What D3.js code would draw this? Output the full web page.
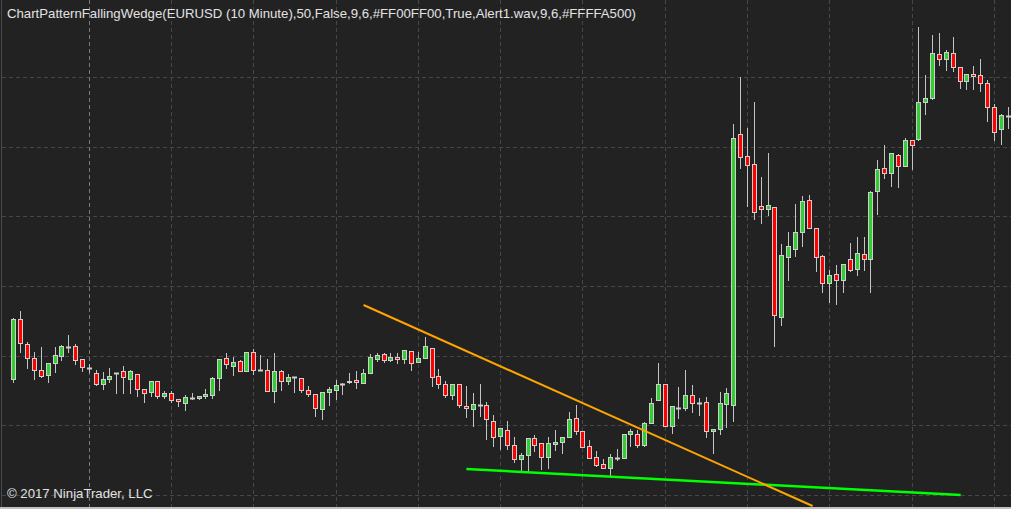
<!DOCTYPE html>
<html>
<head>
<meta charset="utf-8">
<script src="https://cdn.jsdelivr.net/npm/d3@7"></script>
<style>
html,body{margin:0;padding:0;background:#222222;overflow:hidden;}
svg{display:block;}
</style>
</head>
<body>
<svg id="chart" width="1011" height="509"></svg>
<script>
// ---- data (EURUSD 10 minute bars) ----
const titleText = "ChartPatternFallingWedge(EURUSD (10 Minute),50,False,9,6,#FF00FF00,True,Alert1.wav,9,6,#FFFFA500)";
const copyrightText = "\u00A9 2017 NinjaTrader, LLC";

const open = [1.06698,1.06758,1.06733,1.06719,1.06707,1.06702,1.06714,1.06721,1.06730,1.06731,
1.06718,1.06709,1.06704,1.06693,1.06698,1.06704,1.06706,1.06698,1.06703,1.06688,
1.06685,1.06696,1.06681,1.06684,1.06678,1.06674,1.06679,1.06679,1.06681,1.06682,
1.06699,1.06719,1.06711,1.06716,1.06706,1.06725,1.06707,1.06707,1.06686,1.06706,
1.06696,1.06700,1.06699,1.06687,1.06683,1.06668,1.06685,1.06687,1.06693,1.06695,
1.06697,1.06694,1.06704,1.06718,1.06723,1.06717,1.06720,1.06718,1.06726,1.06715,
1.06719,1.06729,1.06701,1.06693,1.06682,1.06693,1.06671,1.06668,1.06672,1.06672,
1.06656,1.06641,1.06647,1.06632,1.06618,1.06622,1.06639,1.06634,1.06620,1.06633,
1.06635,1.06640,1.06659,1.06646,1.06631,1.06620,1.06613,1.06609,1.06619,1.06619,
1.06643,1.06643,1.06632,1.06654,1.06677,1.06693,1.06651,1.06669,1.06669,1.06682,
1.06674,1.06675,1.06646,1.06648,1.06673,1.06672,1.06943,1.06921,1.06913,1.06871,
1.06868,1.06870,1.06760,1.06820,1.06828,1.06845,1.06877,1.06849,1.06821,1.06794,
1.06803,1.06797,1.06818,1.06808,1.06823,1.06818,1.06886,1.06909,1.06904,1.06922,
1.06911,1.06937,1.06938,1.06975,1.06979,1.07023,1.07018,1.07024,1.07010,1.06996,
1.07003,1.07002,1.06994,1.06970,1.06948,1.06961];

const high = [1.06759,1.06766,1.06735,1.06725,1.06730,1.06714,1.06730,1.06732,1.06742,1.06733,
1.06718,1.06713,1.06707,1.06705,1.06709,1.06704,1.06711,1.06707,1.06703,1.06688,
1.06696,1.06696,1.06686,1.06686,1.06678,1.06682,1.06684,1.06681,1.06688,1.06700,
1.06718,1.06724,1.06720,1.06717,1.06725,1.06728,1.06722,1.06718,1.06724,1.06707,
1.06703,1.06700,1.06699,1.06691,1.06683,1.06685,1.06690,1.06697,1.06694,1.06704,
1.06706,1.06708,1.06723,1.06724,1.06724,1.06724,1.06724,1.06727,1.06726,1.06725,
1.06740,1.06729,1.06708,1.06696,1.06693,1.06693,1.06691,1.06684,1.06693,1.06675,
1.06662,1.06649,1.06656,1.06640,1.06624,1.06639,1.06642,1.06634,1.06640,1.06647,
1.06640,1.06665,1.06672,1.06646,1.06637,1.06626,1.06618,1.06623,1.06628,1.06643,
1.06648,1.06647,1.06655,1.06679,1.06714,1.06693,1.06671,1.06690,1.06707,1.06692,
1.06679,1.06680,1.06648,1.06685,1.06689,1.06953,1.07000,1.06949,1.06975,1.06900,
1.06924,1.06870,1.06833,1.06845,1.06873,1.06881,1.06882,1.06849,1.06822,1.06807,
1.06812,1.06813,1.06834,1.06840,1.06840,1.06886,1.06917,1.06932,1.06924,1.06923,
1.06939,1.06937,1.07050,1.07002,1.07042,1.07044,1.07027,1.07040,1.07010,1.07003,
1.07011,1.07018,1.06997,1.06973,1.06963,1.06970];

const low = [1.06695,1.06725,1.06709,1.06698,1.06700,1.06695,1.06705,1.06717,1.06725,1.06713,
1.06706,1.06705,1.06692,1.06688,1.06695,1.06684,1.06684,1.06684,1.06681,1.06675,
1.06681,1.06679,1.06679,1.06675,1.06671,1.06667,1.06678,1.06678,1.06679,1.06679,
1.06687,1.06709,1.06702,1.06706,1.06706,1.06703,1.06707,1.06686,1.06675,1.06687,
1.06693,1.06685,1.06685,1.06681,1.06661,1.06658,1.06672,1.06678,1.06683,1.06694,
1.06689,1.06694,1.06704,1.06716,1.06715,1.06716,1.06714,1.06714,1.06707,1.06715,
1.06719,1.06691,1.06689,1.06680,1.06678,1.06670,1.06660,1.06651,1.06661,1.06638,
1.06631,1.06628,1.06628,1.06615,1.06605,1.06605,1.06626,1.06608,1.06609,1.06627,
1.06624,1.06640,1.06643,1.06630,1.06619,1.06611,1.06609,1.06600,1.06617,1.06619,
1.06631,1.06630,1.06631,1.06654,1.06677,1.06651,1.06644,1.06659,1.06667,1.06665,
1.06662,1.06640,1.06624,1.06643,1.06650,1.06656,1.06909,1.06871,1.06858,1.06854,
1.06862,1.06731,1.06752,1.06797,1.06821,1.06831,1.06849,1.06806,1.06785,1.06775,
1.06773,1.06785,1.06806,1.06802,1.06807,1.06785,1.06863,1.06899,1.06891,1.06890,
1.06911,1.06908,1.06937,1.06963,1.06978,1.07012,1.07007,1.07006,1.06989,1.06988,
1.06988,1.06986,1.06956,1.06937,1.06933,1.06949];

const close = [1.06758,1.06734,1.06719,1.06707,1.06701,1.06714,1.06722,1.06731,1.06730,1.06717,
1.06710,1.06709,1.06693,1.06698,1.06701,1.06704,1.06700,1.06706,1.06688,1.06684,
1.06696,1.06681,1.06684,1.06677,1.06676,1.06680,1.06679,1.06681,1.06683,1.06699,
1.06718,1.06713,1.06715,1.06706,1.06725,1.06707,1.06707,1.06686,1.06706,1.06696,
1.06700,1.06700,1.06687,1.06683,1.06669,1.06685,1.06688,1.06692,1.06693,1.06696,
1.06695,1.06704,1.06720,1.06722,1.06717,1.06720,1.06718,1.06727,1.06714,1.06719,
1.06731,1.06700,1.06693,1.06682,1.06693,1.06672,1.06669,1.06673,1.06672,1.06658,
1.06640,1.06649,1.06632,1.06618,1.06622,1.06639,1.06632,1.06620,1.06634,1.06635,
1.06640,1.06658,1.06646,1.06630,1.06619,1.06612,1.06609,1.06620,1.06619,1.06643,
1.06646,1.06632,1.06654,1.06674,1.06693,1.06651,1.06671,1.06669,1.06682,1.06674,
1.06674,1.06646,1.06648,1.06674,1.06684,1.06939,1.06920,1.06912,1.06865,1.06868,
1.06872,1.06762,1.06822,1.06831,1.06845,1.06876,1.06849,1.06820,1.06794,1.06802,
1.06797,1.06813,1.06807,1.06824,1.06818,1.06885,1.06908,1.06904,1.06924,1.06911,
1.06937,1.06932,1.06975,1.06979,1.07024,1.07018,1.07025,1.07010,1.06996,1.07003,
1.07001,1.06994,1.06970,1.06945,1.06962,1.06961];

// horizontal price grid levels
const priceGrid = [1.07000, 1.06930, 1.06861, 1.06791, 1.06721, 1.06652, 1.06582];
// vertical time grid (bar indices, every 2 hours = 12 bars)
const timeGrid = [11, 23, 35, 47, 59, 71, 83, 95, 107, 119, 131, 143];
// falling wedge lines: [bar index, price]
const upperLine = [[51, 1.06772], [116.5, 1.06571]];
const lowerLine = [[66, 1.06608], [138.1, 1.06582]];

// ---- drawing ----
const W = 1011, H = 509;
const svg = d3.select("#chart");
const x = d3.scaleLinear().domain([0, 145]).range([13.9, 1008.0]);
const y = d3.scaleLinear().domain([1.0658, 1.0700]).range([497, 77]);

svg.append("rect").attr("width", W).attr("height", H).attr("fill", "#222222");

svg.append("defs").append("clipPath").attr("id", "plot")
  .append("rect").attr("x", 2).attr("y", 0).attr("width", W - 2).attr("height", 507);

const grid = svg.append("g");
grid.selectAll("line.h").data(priceGrid).enter().append("line")
  .attr("x1", 2).attr("x2", W)
  .attr("y1", d => Math.round(y(d)) + 0.5).attr("y2", d => Math.round(y(d)) + 0.5)
  .attr("stroke", "#474747").attr("stroke-width", 1).attr("stroke-dasharray", "4,3");
grid.selectAll("line.v").data(timeGrid).enter().append("line")
  .attr("y1", 0).attr("y2", 507)
  .attr("x1", d => Math.floor(x(d)) + 0.5).attr("x2", d => Math.floor(x(d)) + 0.5)
  .attr("stroke", (d, i) => i === 0 ? "#7a7a7a" : "#474747")
  .attr("stroke-width", 1).attr("stroke-dasharray", "4,3");

const bars = d3.range(open.length).map(i => ({i, o: open[i], h: high[i], l: low[i], c: close[i]}));
const cg = svg.append("g").attr("clip-path", "url(#plot)");
const cx = d => Math.floor(x(d.i)) + 0.5;

cg.selectAll("line.wick").data(bars).enter().append("line")
  .attr("x1", cx).attr("x2", cx)
  .attr("y1", d => Math.round(y(d.h))).attr("y2", d => Math.round(y(d.l)) + 1)
  .attr("stroke", "#c4c4c4").attr("stroke-width", 1);

bars.forEach(d => {
  const yo = Math.round(y(d.o)), yc = Math.round(y(d.c));
  if (yo === yc) {
    cg.append("line")
      .attr("x1", cx(d) - 2.5).attr("x2", cx(d) + 2.5)
      .attr("y1", yo + 0.5).attr("y2", yo + 0.5)
      .attr("stroke", "#cfcfcf").attr("stroke-width", 2);
  } else {
    cg.append("rect")
      .attr("x", cx(d) - 2).attr("width", 4)
      .attr("y", Math.min(yo, yc) + 0.5).attr("height", Math.abs(yo - yc))
      .attr("fill", d.c > d.o ? "#32CD32" : "#FF0000")
      .attr("stroke", "#cfcfcf").attr("stroke-width", 1);
  }
});

const lineGen = d3.line().x(p => x(p[0])).y(p => y(p[1]));
cg.append("path").attr("d", lineGen(lowerLine))
  .attr("fill", "none").attr("stroke", "#00FF00").attr("stroke-width", 2.5);
cg.append("path").attr("d", lineGen(upperLine))
  .attr("fill", "none").attr("stroke", "#FFA500").attr("stroke-width", 2);

// borders
svg.append("line").attr("x1", 1.5).attr("x2", 1.5).attr("y1", 0).attr("y2", 507)
  .attr("stroke", "#4a4a4a").attr("stroke-width", 1);
svg.append("rect").attr("x", 0).attr("y", 507).attr("width", W).attr("height", 2).attr("fill", "#c0c0c0");

// texts
svg.append("text").attr("x", 7).attr("y", 17.5)
  .attr("font-family", "'Liberation Sans', Arial, sans-serif").attr("font-size", 13.5)
  .attr("fill", "#e2e2e2").attr("textLength", 629).attr("lengthAdjust", "spacingAndGlyphs")
  .text(titleText);
svg.append("text").attr("x", 7).attr("y", 498)
  .attr("font-family", "'Liberation Sans', Arial, sans-serif").attr("font-size", 13.5)
  .attr("fill", "#e2e2e2").attr("textLength", 145.5).attr("lengthAdjust", "spacingAndGlyphs")
  .text(copyrightText);
</script>
</body>
</html>
